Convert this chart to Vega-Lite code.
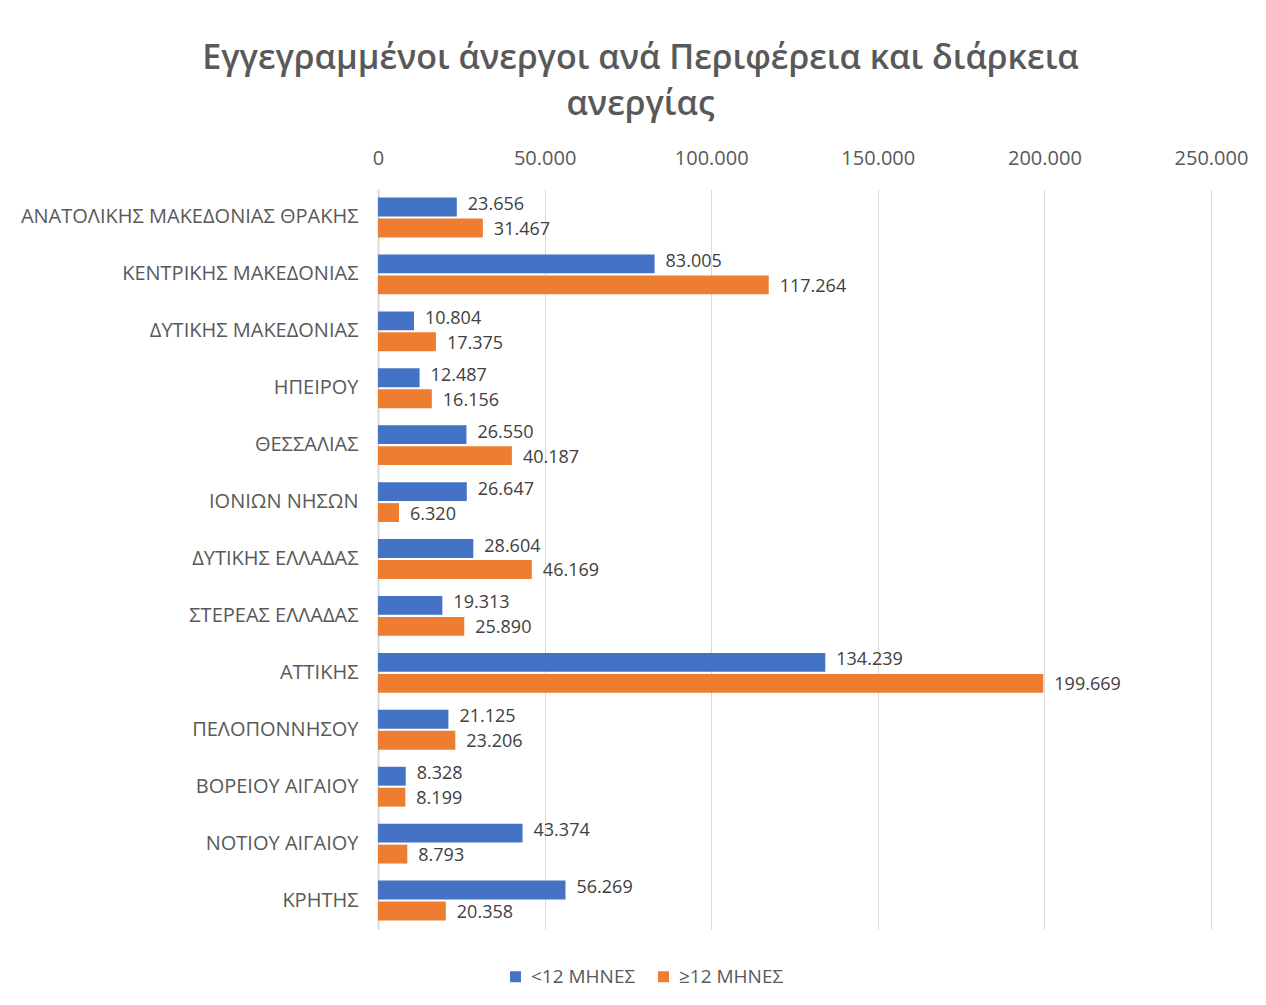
{
  "$schema": "https://vega.github.io/schema/vega-lite/v6.json",
  "autosize": "none",
  "width": 833,
  "height": 740,
  "padding": {"left": 378, "top": 189, "right": 55, "bottom": 76},
  "background": "white",
  "config": {
    "font": "Open Sans",
    "locale": {"number": {"decimal": ",", "thousands": ".", "grouping": [3], "currency": ["", "€"]}},
    "view": {"stroke": null}
  },
  "title": {
    "text": ["Εγγεγραμμένοι άνεργοι ανά Περιφέρεια και διάρκεια", "ανεργίας"],
    "fontSize": 34,
    "fontWeight": 600,
    "color": "#595959",
    "lineHeight": 46,
    "anchor": "middle",
    "dx": -154,
    "offset": 26
  },
  "data": {
    "values": [
      {"region": "ΑΝΑΤΟΛΙΚΗΣ ΜΑΚΕΔΟΝΙΑΣ ΘΡΑΚΗΣ", "series": "<12 ΜΗΝΕΣ", "value": 23656},
      {"region": "ΑΝΑΤΟΛΙΚΗΣ ΜΑΚΕΔΟΝΙΑΣ ΘΡΑΚΗΣ", "series": "≥12 ΜΗΝΕΣ", "value": 31467},
      {"region": "ΚΕΝΤΡΙΚΗΣ ΜΑΚΕΔΟΝΙΑΣ", "series": "<12 ΜΗΝΕΣ", "value": 83005},
      {"region": "ΚΕΝΤΡΙΚΗΣ ΜΑΚΕΔΟΝΙΑΣ", "series": "≥12 ΜΗΝΕΣ", "value": 117264},
      {"region": "ΔΥΤΙΚΗΣ ΜΑΚΕΔΟΝΙΑΣ", "series": "<12 ΜΗΝΕΣ", "value": 10804},
      {"region": "ΔΥΤΙΚΗΣ ΜΑΚΕΔΟΝΙΑΣ", "series": "≥12 ΜΗΝΕΣ", "value": 17375},
      {"region": "ΗΠΕΙΡΟΥ", "series": "<12 ΜΗΝΕΣ", "value": 12487},
      {"region": "ΗΠΕΙΡΟΥ", "series": "≥12 ΜΗΝΕΣ", "value": 16156},
      {"region": "ΘΕΣΣΑΛΙΑΣ", "series": "<12 ΜΗΝΕΣ", "value": 26550},
      {"region": "ΘΕΣΣΑΛΙΑΣ", "series": "≥12 ΜΗΝΕΣ", "value": 40187},
      {"region": "ΙΟΝΙΩΝ ΝΗΣΩΝ", "series": "<12 ΜΗΝΕΣ", "value": 26647},
      {"region": "ΙΟΝΙΩΝ ΝΗΣΩΝ", "series": "≥12 ΜΗΝΕΣ", "value": 6320},
      {"region": "ΔΥΤΙΚΗΣ ΕΛΛΑΔΑΣ", "series": "<12 ΜΗΝΕΣ", "value": 28604},
      {"region": "ΔΥΤΙΚΗΣ ΕΛΛΑΔΑΣ", "series": "≥12 ΜΗΝΕΣ", "value": 46169},
      {"region": "ΣΤΕΡΕΑΣ ΕΛΛΑΔΑΣ", "series": "<12 ΜΗΝΕΣ", "value": 19313},
      {"region": "ΣΤΕΡΕΑΣ ΕΛΛΑΔΑΣ", "series": "≥12 ΜΗΝΕΣ", "value": 25890},
      {"region": "ΑΤΤΙΚΗΣ", "series": "<12 ΜΗΝΕΣ", "value": 134239},
      {"region": "ΑΤΤΙΚΗΣ", "series": "≥12 ΜΗΝΕΣ", "value": 199669},
      {"region": "ΠΕΛΟΠΟΝΝΗΣΟΥ", "series": "<12 ΜΗΝΕΣ", "value": 21125},
      {"region": "ΠΕΛΟΠΟΝΝΗΣΟΥ", "series": "≥12 ΜΗΝΕΣ", "value": 23206},
      {"region": "ΒΟΡΕΙΟΥ ΑΙΓΑΙΟΥ", "series": "<12 ΜΗΝΕΣ", "value": 8328},
      {"region": "ΒΟΡΕΙΟΥ ΑΙΓΑΙΟΥ", "series": "≥12 ΜΗΝΕΣ", "value": 8199},
      {"region": "ΝΟΤΙΟΥ ΑΙΓΑΙΟΥ", "series": "<12 ΜΗΝΕΣ", "value": 43374},
      {"region": "ΝΟΤΙΟΥ ΑΙΓΑΙΟΥ", "series": "≥12 ΜΗΝΕΣ", "value": 8793},
      {"region": "ΚΡΗΤΗΣ", "series": "<12 ΜΗΝΕΣ", "value": 56269},
      {"region": "ΚΡΗΤΗΣ", "series": "≥12 ΜΗΝΕΣ", "value": 20358}
    ]
  },
  "encoding": {
    "y": {
      "field": "region",
      "type": "nominal",
      "sort": null,
      "scale": {"paddingInner": 0.3, "paddingOuter": 0.15},
      "axis": {
        "title": null,
        "ticks": false,
        "labelPadding": 20,
        "labelLimit": 0,
        "labelFontSize": 20,
        "labelColor": "#595959",
        "domainColor": "#d9d9d9",
        "domainWidth": 2
      }
    },
    "yOffset": {"field": "series", "type": "nominal", "sort": null, "scale": {"domain": ["<12 ΜΗΝΕΣ", "≥12 ΜΗΝΕΣ"], "paddingInner": 0.1}},
    "x": {
      "field": "value",
      "type": "quantitative",
      "scale": {"domain": [0, 250000], "nice": false},
      "axis": {
        "orient": "top",
        "title": null,
        "values": [0, 50000, 100000, 150000, 200000, 250000],
        "format": ",.0f",
        "ticks": false,
        "domain": false,
        "labelFlush": false,
        "labelPadding": 21,
        "labelFontSize": 20,
        "labelColor": "#595959",
        "gridColor": "#d9d9d9",
        "gridWidth": 1
      }
    }
  },
  "layer": [
    {
      "mark": {"type": "bar"},
      "encoding": {
        "color": {
          "field": "series",
          "type": "nominal",
          "sort": null,
          "scale": {"domain": ["<12 ΜΗΝΕΣ", "≥12 ΜΗΝΕΣ"], "range": ["#4472C4", "#ED7D31"]},
          "legend": {
            "title": null,
            "orient": "none",
            "direction": "horizontal",
            "legendX": 128,
            "legendY": 778,
            "symbolType": "square",
            "symbolSize": 121,
            "symbolStrokeWidth": 0,
            "labelFontSize": 19,
            "labelColor": "#595959",
            "columnPadding": 18,
            "labelOffset": 6
          }
        }
      }
    },
    {
      "transform": [{"filter": "datum.series === '<12 ΜΗΝΕΣ'"}],
      "mark": {"type": "text", "align": "left", "baseline": "middle", "dx": 11, "dy": -2, "fontSize": 18, "color": "#404040"},
      "encoding": {
        "text": {"field": "value", "type": "quantitative", "format": ",.0f"}
      }
    },
    {
      "transform": [{"filter": "datum.series !== '<12 ΜΗΝΕΣ'"}],
      "mark": {"type": "text", "align": "left", "baseline": "middle", "dx": 11, "dy": 2, "fontSize": 18, "color": "#404040"},
      "encoding": {
        "text": {"field": "value", "type": "quantitative", "format": ",.0f"}
      }
    }
  ]
}
